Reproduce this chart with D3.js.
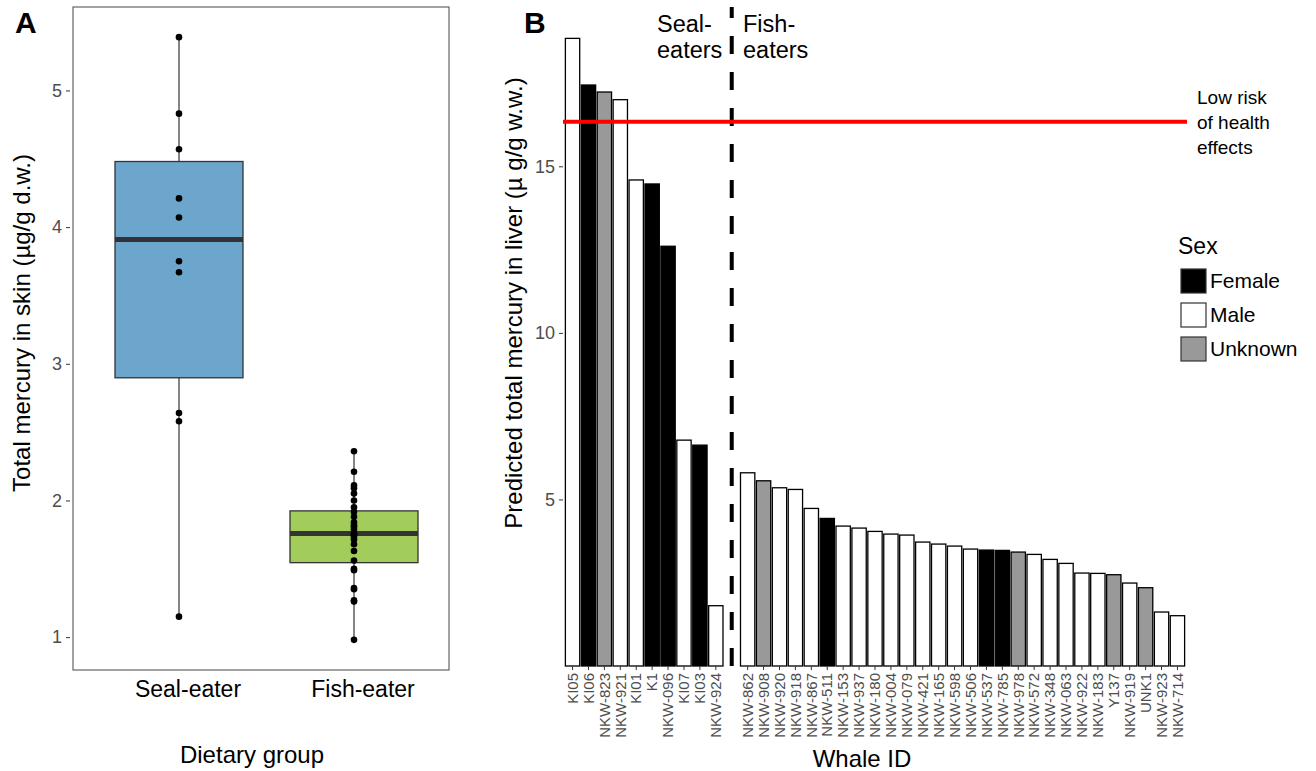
<!DOCTYPE html>
<html>
<head>
<meta charset="utf-8">
<script src="https://cdn.jsdelivr.net/npm/d3@7"></script>
<style>
body { margin: 0; background: #fff; }
svg { display: block; font-family: "Liberation Sans", Arial, sans-serif; }
</style>
</head>
<body>
<script>
// panel A: skin mercury by dietary group
const groups = ['Seal-eater', 'Fish-eater'];
const sealSkin = [5.39, 4.83, 4.57, 4.21, 4.07, 3.75, 3.67, 2.64, 2.58, 1.15];
const fishSkin = [2.36, 2.21, 2.11, 2.09, 2.05, 2.00, 1.95, 1.915, 1.88, 1.84, 1.82, 1.81, 1.79, 1.76,
    1.755, 1.745, 1.735, 1.715, 1.68, 1.63, 1.56, 1.50, 1.49, 1.36, 1.35, 1.27, 1.26, 0.98];
const groupFill = ['#6CA6CD', '#A2CD5A'];
const skinTicks = [1, 2, 3, 4, 5];

// panel B: predicted liver mercury per whale
const sealIds = ['KI05', 'KI06', 'NKW-823', 'NKW-921', 'KI01', 'K1', 'NKW-096', 'KI07', 'KI03', 'NKW-924'];
const sealLiver = [18.84, 17.44, 17.23, 17.0, 14.59, 14.47, 12.6, 6.78, 6.63, 1.81];
const sealSex = ['Male', 'Female', 'Unknown', 'Male', 'Male', 'Female', 'Female', 'Male', 'Female', 'Male'];
const fishIds = ['NKW-862', 'NKW-908', 'NKW-920', 'NKW-918', 'NKW-867', 'NKW-511', 'NKW-153', 'NKW-937',
    'NKW-180', 'NKW-004', 'NKW-079', 'NKW-421', 'NKW-165', 'NKW-598', 'NKW-506', 'NKW-537', 'NKW-785',
    'NKW-978', 'NKW-572', 'NKW-348', 'NKW-063', 'NKW-922', 'NKW-183', 'Y137', 'NKW-919', 'UNK1', 'NKW-923', 'NKW-714'];
const fishLiver = [5.80, 5.56, 5.35, 5.30, 4.73, 4.43, 4.20, 4.14, 4.04, 3.96, 3.93, 3.72, 3.66, 3.60,
    3.51, 3.48, 3.47, 3.42, 3.35, 3.20, 3.08, 2.79, 2.78, 2.74, 2.49, 2.35, 1.62, 1.51];
const fishSex = ['Male', 'Unknown', 'Male', 'Male', 'Male', 'Female', 'Male', 'Male', 'Male', 'Male', 'Male',
    'Male', 'Male', 'Male', 'Male', 'Female', 'Female', 'Unknown', 'Male', 'Male', 'Male', 'Male', 'Male',
    'Unknown', 'Male', 'Unknown', 'Male', 'Male'];
const sexLevels = ['Female', 'Male', 'Unknown'];
const sexFill = ['#000000', '#ffffff', '#999999'];
const liverTicks = [5, 10, 15];
const lowRisk = 16.34;

const W = 1316, H = 771;
const svg = d3.select('body').append('svg').attr('width', W).attr('height', H);
const GREY = '#4d4d4d';

// ---------- panel A ----------
const A = {left: 73, right: 449, top: 7, bottom: 670};
const allSkin = sealSkin.concat(fishSkin);
const skinMin = d3.min(allSkin), skinMax = d3.max(allSkin);
const skinPad = (skinMax - skinMin) * 0.05;
const yA = d3.scaleLinear().domain([skinMin - skinPad, skinMax + skinPad]).range([A.bottom, A.top]);
const xA = d3.scalePoint().domain(groups).range([179, 354]);
const boxW = 128;

svg.append('rect')
    .attr('x', A.left).attr('y', A.top)
    .attr('width', A.right - A.left).attr('height', A.bottom - A.top)
    .attr('fill', 'none').attr('stroke', '#444').attr('stroke-width', 1);

const gA = svg.append('g');
[sealSkin, fishSkin].forEach((vals, i) => {
    const s = vals.slice().sort(d3.ascending);
    const q1 = d3.quantile(s, 0.25), med = d3.quantile(s, 0.5), q3 = d3.quantile(s, 0.75);
    const iqr = q3 - q1;
    const lo = d3.min(s.filter(v => v >= q1 - 1.5 * iqr));
    const hi = d3.max(s.filter(v => v <= q3 + 1.5 * iqr));
    const cx = xA(groups[i]);
    gA.append('line').attr('x1', cx).attr('x2', cx).attr('y1', yA(lo)).attr('y2', yA(hi))
        .attr('stroke', '#333').attr('stroke-width', 1.2);
    gA.append('rect').attr('x', cx - boxW / 2).attr('width', boxW)
        .attr('y', yA(q3)).attr('height', yA(q1) - yA(q3))
        .attr('fill', groupFill[i]).attr('stroke', '#333').attr('stroke-width', 1.3);
    gA.append('line').attr('x1', cx - boxW / 2).attr('x2', cx + boxW / 2)
        .attr('y1', yA(med)).attr('y2', yA(med))
        .attr('stroke', '#333').attr('stroke-width', 5);
    gA.selectAll(null).data(vals).enter().append('circle')
        .attr('cx', cx).attr('cy', d => yA(d)).attr('r', 3.3).attr('fill', '#000');
});

const yAxisA = svg.append('g').attr('transform', `translate(${A.left - 3},0)`)
    .call(d3.axisLeft(yA).tickValues(skinTicks).tickFormat(d3.format('d')).tickSize(4).tickPadding(4));
yAxisA.select('.domain').remove();
yAxisA.selectAll('line').attr('stroke', '#333');
yAxisA.selectAll('text').attr('fill', GREY).style('font-size', '18px').style('font-family', null);

svg.selectAll('.grouplabel').data(groups).enter().append('text')
    .attr('x', d => xA(d) + 9).attr('y', 697)
    .attr('text-anchor', 'middle').style('font-size', '23px').attr('fill', '#000')
    .text(d => d);

svg.append('text').attr('x', 252).attr('y', 763).attr('text-anchor', 'middle')
    .style('font-size', '24px').text('Dietary group');
svg.append('text').attr('transform', 'translate(30,323) rotate(-90)').attr('text-anchor', 'middle')
    .style('font-size', '24px').text('Total mercury in skin (µg/g d.w.)');
svg.append('text').attr('x', 15).attr('y', 33).style('font-size', '30px').style('font-weight', 'bold').text('A');

// ---------- panel B ----------
const B = {left: 563, right: 1187, top: 7, bottom: 666};
const whales = sealIds.map((id, i) => ({id, v: sealLiver[i], sex: sealSex[i]}))
    .concat(fishIds.map((id, i) => ({id, v: fishLiver[i], sex: fishSex[i]})));
const slots = sealIds.concat(['gap'], fishIds);
const xB = d3.scaleBand().domain(slots).range([B.left, B.right]).paddingInner(0.1).paddingOuter(0.15);
const liverMax = d3.max(whales, d => d.v);
const yB = d3.scaleLinear().domain([0, liverMax * 1.05]).range([B.bottom, B.top]);
const fillB = d3.scaleOrdinal().domain(sexLevels).range(sexFill);

svg.append('g').selectAll('rect').data(whales).enter().append('rect')
    .attr('x', d => xB(d.id)).attr('width', xB.bandwidth())
    .attr('y', d => yB(d.v)).attr('height', d => yB(0) - yB(d.v))
    .attr('fill', d => fillB(d.sex)).attr('stroke', '#000').attr('stroke-width', 1.3);

const gapX = xB('gap') + xB.bandwidth() / 2;
svg.append('line').attr('x1', gapX).attr('x2', gapX).attr('y1', B.bottom).attr('y2', B.top)
    .attr('stroke', '#000').attr('stroke-width', 4).attr('stroke-dasharray', '18,18');

svg.append('line').attr('x1', B.left).attr('x2', B.right).attr('y1', yB(lowRisk)).attr('y2', yB(lowRisk))
    .attr('stroke', '#ff0000').attr('stroke-width', 4);

const yAxisB = svg.append('g').attr('transform', `translate(${B.left},0)`)
    .call(d3.axisLeft(yB).tickValues(liverTicks).tickSize(4).tickPadding(4));
yAxisB.select('.domain').remove();
yAxisB.selectAll('line').attr('stroke', '#333');
yAxisB.selectAll('text').attr('fill', GREY).style('font-size', '18px').style('font-family', null);

const xAxisB = svg.append('g').attr('transform', `translate(0,${B.bottom})`)
    .call(d3.axisBottom(xB).tickValues(sealIds.concat(fishIds)).tickSize(4));
xAxisB.select('.domain').remove();
xAxisB.selectAll('line').attr('stroke', '#333');
xAxisB.selectAll('text')
    .attr('x', -7).attr('y', 0).attr('dy', '0.35em')
    .attr('transform', 'rotate(-90)').style('text-anchor', 'end')
    .attr('fill', GREY).style('font-size', '15px').style('font-family', null);

svg.append('text').attr('x', 862).attr('y', 767).attr('text-anchor', 'middle')
    .style('font-size', '24px').text('Whale ID');
svg.append('text').attr('transform', 'translate(522,303) rotate(-90)').attr('text-anchor', 'middle')
    .style('font-size', '24px').text('Predicted total mercury in liver (µ g/g w.w.)');
svg.append('text').attr('x', 524).attr('y', 33).style('font-size', '30px').style('font-weight', 'bold').text('B');

// group annotations either side of the dashed line
const sealNote = svg.append('text').attr('x', 657).attr('y', 32).style('font-size', '23.5px');
sealNote.append('tspan').attr('x', 657).text('Seal-');
sealNote.append('tspan').attr('x', 657).attr('dy', 26).text('eaters');
const fishNote = svg.append('text').attr('x', 743).attr('y', 32).style('font-size', '23.5px');
fishNote.append('tspan').attr('x', 743).text('Fish-');
fishNote.append('tspan').attr('x', 743).attr('dy', 26).text('eaters');

const riskNote = svg.append('text').attr('x', 1197).attr('y', 104).style('font-size', '19px');
['Low risk', 'of health', 'effects'].forEach((t, i) => {
    riskNote.append('tspan').attr('x', 1197).attr('dy', i === 0 ? 0 : 25).text(t);
});

// legend
const legend = svg.append('g').attr('transform', 'translate(1181,0)');
legend.append('text').attr('x', -3).attr('y', 254).style('font-size', '23px').text('Sex');
const keys = legend.selectAll('g').data(sexLevels).enter().append('g')
    .attr('transform', (d, i) => `translate(0,${269 + i * 34})`);
keys.append('rect').attr('width', 25).attr('height', 24)
    .attr('fill', d => fillB(d)).attr('stroke', '#333').attr('stroke-width', 1.2);
keys.append('text').attr('x', 29).attr('y', 12).attr('dy', '0.35em')
    .style('font-size', '21px').text(d => d);
</script>
</body>
</html>
